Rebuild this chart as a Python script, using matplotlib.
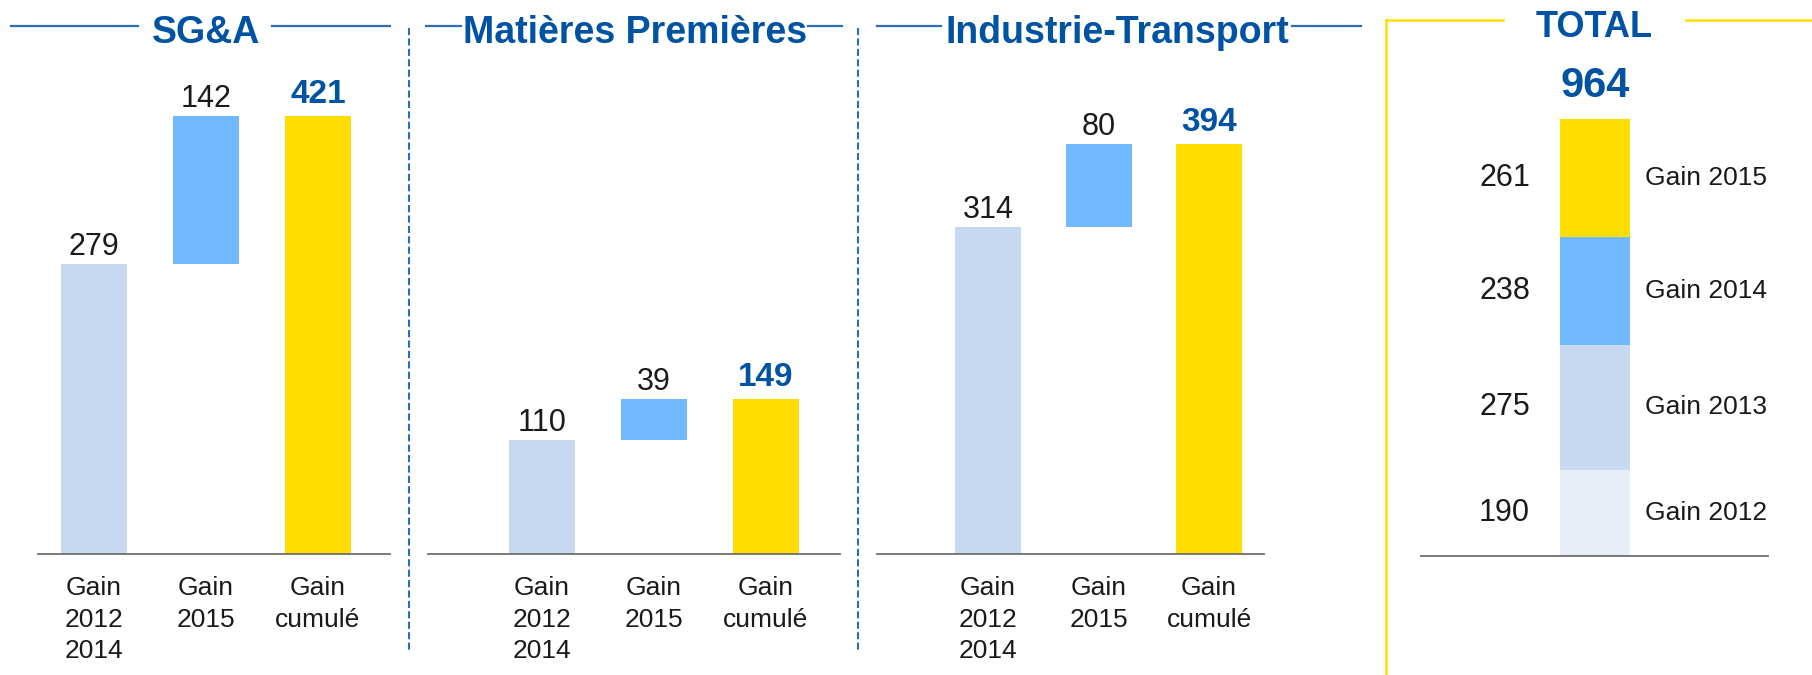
import matplotlib.pyplot as plt
from matplotlib.lines import Line2D

plt.rcParams['font.family'] = ['Liberation Sans', 'DejaVu Sans']

# data
panel_titles = ["SG&A", "Matières Premières", "Industrie-Transport"]
categories = ["Gain\n2012\n2014", "Gain\n2015", "Gain\ncumulé"]
gain_2012_2014 = [279, 110, 314]
gain_2015 = [142, 39, 80]
gain_cumule = [421, 149, 394]

total_title = "TOTAL"
total_labels = ["Gain 2012", "Gain 2013", "Gain 2014", "Gain 2015"]
total_values = [190, 275, 238, 261]
total_sum = 964

# colours
BLUE_TXT = "#0052A3"
LINE_BLUE = "#2D6DB5"
C_PALE = "#E7EEF8"
C_LIGHT = "#C6D9F0"
C_MID = "#71B9FF"
C_YELLOW = "#FFDD00"
AXIS_GREY = "#6E6E6E"
TXT = "#1A1A1A"

W, H = 1812, 675
fig = plt.figure(figsize=(W / 100, H / 100), dpi=100)


def fx(px):
    return px / W


def fy(py):
    return 1 - py / H


def hline(x0, x1, y, color, lw=1.6):
    fig.add_artist(Line2D([fx(x0), fx(x1)], [fy(y), fy(y)], color=color,
                          lw=lw, transform=fig.transFigure))


# panel layout in pixels: axis extent, first bar centre, bar spacing
panels = [
    dict(left=38, right=390, c0=94, step=112, tx=206, lines=[(11, 138), (272, 390)]),
    dict(left=428, right=840, c0=542, step=112, tx=635, lines=[(426, 461), (808, 842)]),
    dict(left=877, right=1264, c0=988, step=110.5, tx=1117, lines=[(877, 941), (1292, 1361)]),
]
base_px = 554
px_per_unit = 1.04

for i, p in enumerate(panels):
    ax = fig.add_axes([fx(p['left']), fy(base_px), fx(p['right'] - p['left']), base_px / H])
    ax.set_xlim((p['left'] - p['c0']) / p['step'], (p['right'] - p['c0']) / p['step'])
    ax.set_ylim(0, base_px / px_per_unit)
    bw = 66 / p['step']
    a, b, c = gain_2012_2014[i], gain_2015[i], gain_cumule[i]
    ax.bar(0, a, width=bw, color=C_LIGHT)
    ax.bar(1, b, bottom=a, width=bw, color=C_MID)
    ax.bar(2, c, width=bw, color=C_YELLOW)
    ax.annotate(str(a), (0, a), xytext=(0, 6.5), textcoords='offset points',
                ha='center', va='baseline', fontsize=22, color=TXT)
    ax.annotate(str(b), (1, a + b), xytext=(0, 6.5), textcoords='offset points',
                ha='center', va='baseline', fontsize=22, color=TXT)
    ax.annotate(str(c), (2, c), xytext=(0, 9.5), textcoords='offset points',
                ha='center', va='baseline', fontsize=24, fontweight='bold', color=BLUE_TXT)
    ax.set_xticks([0, 1, 2])
    ax.set_xticklabels(categories, fontsize=19, color=TXT, linespacing=1.4)
    ax.tick_params(axis='x', length=0, pad=16)
    ax.set_yticks([])
    for s in ['top', 'left', 'right']:
        ax.spines[s].set_visible(False)
    ax.spines['bottom'].set_color(AXIS_GREY)
    ax.spines['bottom'].set_linewidth(1.3)
    ax.patch.set_visible(False)

    fig.text(fx(p['tx']), fy(43), panel_titles[i], ha='center', va='baseline',
             fontsize=27, fontweight='bold', color=BLUE_TXT)
    for x0, x1 in p['lines']:
        hline(x0, x1, 26, LINE_BLUE)

# dashed separators
for x in [409, 858]:
    fig.add_artist(Line2D([fx(x), fx(x)], [fy(28), fy(653)], color=LINE_BLUE, lw=1.5,
                          dashes=(3.4, 1.6), transform=fig.transFigure))

# total stacked bar
t_base = 556
t_scale = 0.4535
axt = fig.add_axes([fx(1421), fy(t_base), fx(1768 - 1421), t_base / H])
axt.set_xlim((1421 - 1595) / 70, (1768 - 1595) / 70)
axt.set_ylim(0, t_base / t_scale)
seg_colors = [C_PALE, C_LIGHT, C_MID, C_YELLOW]
bottom = 0
for lab, v, col in zip(total_labels, total_values, seg_colors):
    axt.bar(0, v, bottom=bottom, width=1, color=col)
    mid = bottom + v / 2
    axt.text(-0.93, mid, str(v), ha='right', va='center', fontsize=22, color=TXT)
    axt.text(0.71, mid, lab, ha='left', va='center', fontsize=19, color=TXT)
    bottom += v
axt.annotate(str(total_sum), (0, total_sum), xytext=(0, 16), textcoords='offset points',
             ha='center', va='baseline', fontsize=30, fontweight='bold', color=BLUE_TXT)
axt.set_xticks([])
axt.set_yticks([])
for s in ['top', 'left', 'right']:
    axt.spines[s].set_visible(False)
axt.spines['bottom'].set_color(AXIS_GREY)
axt.spines['bottom'].set_linewidth(1.3)
axt.patch.set_visible(False)

fig.text(fx(1594), fy(37), total_title, ha='center', va='baseline',
         fontsize=26, fontweight='bold', color=BLUE_TXT)
hline(1386, 1503, 20, C_YELLOW, lw=1.8)
hline(1686, 1812, 20, C_YELLOW, lw=1.8)
fig.add_artist(Line2D([fx(1386), fx(1386)], [fy(20), 0], color=C_YELLOW, lw=1.8,
                      transform=fig.transFigure))

fig.savefig("out.png", dpi=100)
